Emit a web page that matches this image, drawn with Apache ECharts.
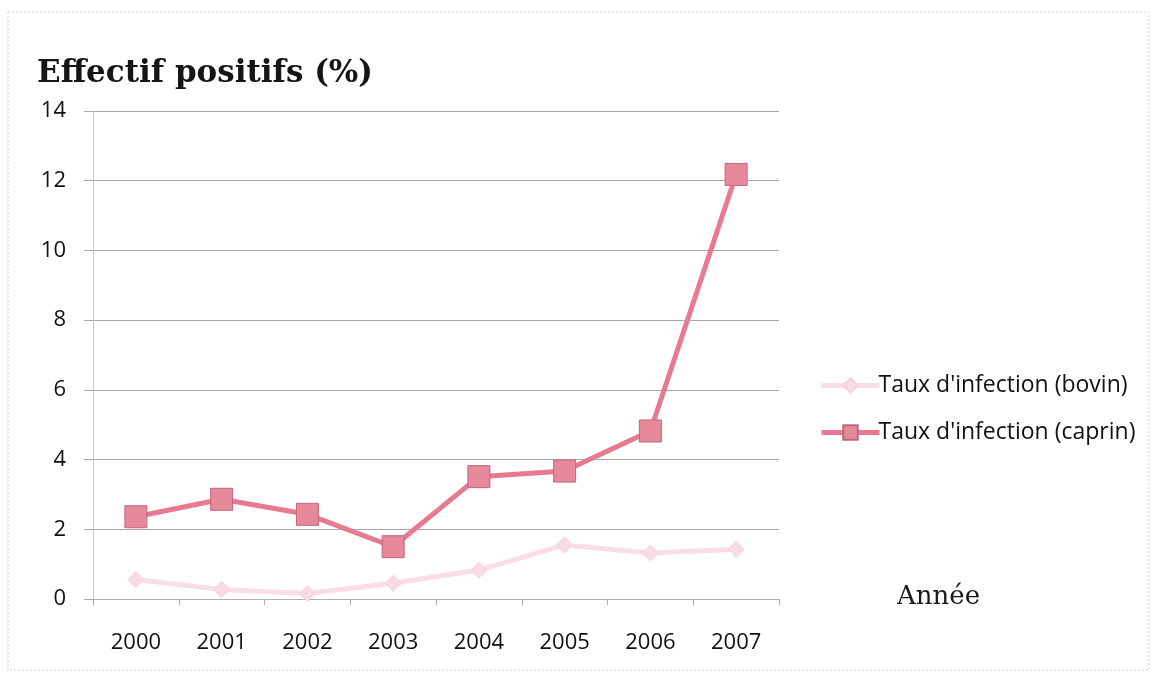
<!DOCTYPE html>
<html>
<head>
<meta charset="utf-8">
<script src="https://cdn.jsdelivr.net/npm/echarts@6/dist/echarts.min.js"></script>
<style>
  html, body { margin: 0; padding: 0; background: #ffffff; }
  #chart { width: 1157px; height: 677px; }
</style>
</head>
<body>
<div id="chart"></div>
<script>
// Years on the horizontal axis
const years = ['2000', '2001', '2002', '2003', '2004', '2005', '2006', '2007'];
// Infection rates (%) per year
const bovin = [0.56, 0.27, 0.16, 0.45, 0.83, 1.55, 1.32, 1.43];
const caprin = [2.36, 2.86, 2.43, 1.50, 3.51, 3.67, 4.82, 12.18];
// Series names shown in the legend
const seriesNames = ['Taux d\'infection (bovin)', 'Taux d\'infection (caprin)'];

const chart = echarts.init(document.getElementById('chart'));

chart.setOption({
  backgroundColor: '#ffffff',
  animation: false,
  title: {
    text: 'Effectif positifs (%)',
    left: 32,
    top: 53,
    textStyle: {
      fontFamily: 'DejaVu Serif',
      fontWeight: 'bold',
      fontSize: 31,
      color: '#151515'
    }
  },
  legend: {
    orient: 'vertical',
    left: 814,
    top: 369,
    itemGap: 24,
    itemWidth: 58,
    itemHeight: 18,
    lineStyle: { width: 5 },
    textStyle: {
      fontFamily: 'Open Sans',
      fontSize: 23,
      color: '#111111',
      padding: [0, 0, 0, -6]
    },
    data: seriesNames
  },
  grid: {
    left: 93,
    right: 378,
    top: 111,
    bottom: 78,
    containLabel: false
  },
  xAxis: {
    type: 'category',
    data: years,
    boundaryGap: true,
    axisLine: { show: true, lineStyle: { color: '#b0b0b0', width: 1 } },
    axisTick: { show: true, length: 6, lineStyle: { color: '#b0b0b0' } },
    axisLabel: {
      margin: 33,
      fontFamily: 'Open Sans',
      fontSize: 22,
      color: '#111111'
    },
    splitLine: { show: false }
  },
  yAxis: {
    type: 'value',
    min: 0,
    max: 14,
    interval: 2,
    axisLine: { show: true, lineStyle: { color: '#c8c8c8', width: 1 } },
    axisTick: { show: true, length: 9, lineStyle: { color: '#a8a8a8' } },
    axisLabel: {
      margin: 27,
      fontFamily: 'Open Sans',
      fontSize: 22,
      color: '#111111'
    },
    splitLine: { show: true, lineStyle: { color: '#a8a8a8', width: 1 } }
  },
  graphic: [
    {
      type: 'rect',
      shape: { x: 8, y: 12, width: 1141, height: 658 },
      style: { fill: 'none', stroke: '#d0d0d0', lineWidth: 1, lineDash: [2, 2] },
      silent: true
    },
    {
      type: 'text',
      left: 897,
      top: 584,
      style: {
        text: 'Année',
        font: '26px "DejaVu Serif"',
        fill: '#1a1a1a'
      }
    }
  ],
  series: [
    {
      name: seriesNames[0],
      type: 'line',
      data: bovin,
      symbol: 'diamond',
      symbolSize: 16,
      lineStyle: { color: '#fadde9', width: 5 },
      itemStyle: { color: '#f9dbe7', borderColor: '#f6d0df', borderWidth: 1 },
      z: 2
    },
    {
      name: seriesNames[1],
      type: 'line',
      data: caprin,
      symbol: 'rect',
      symbolSize: 22,
      lineStyle: { color: '#e77a91', width: 5 },
      itemStyle: { color: '#e5899b', borderColor: '#c2657a', borderWidth: 1 },
      z: 3
    }
  ]
});
</script>
</body>
</html>
